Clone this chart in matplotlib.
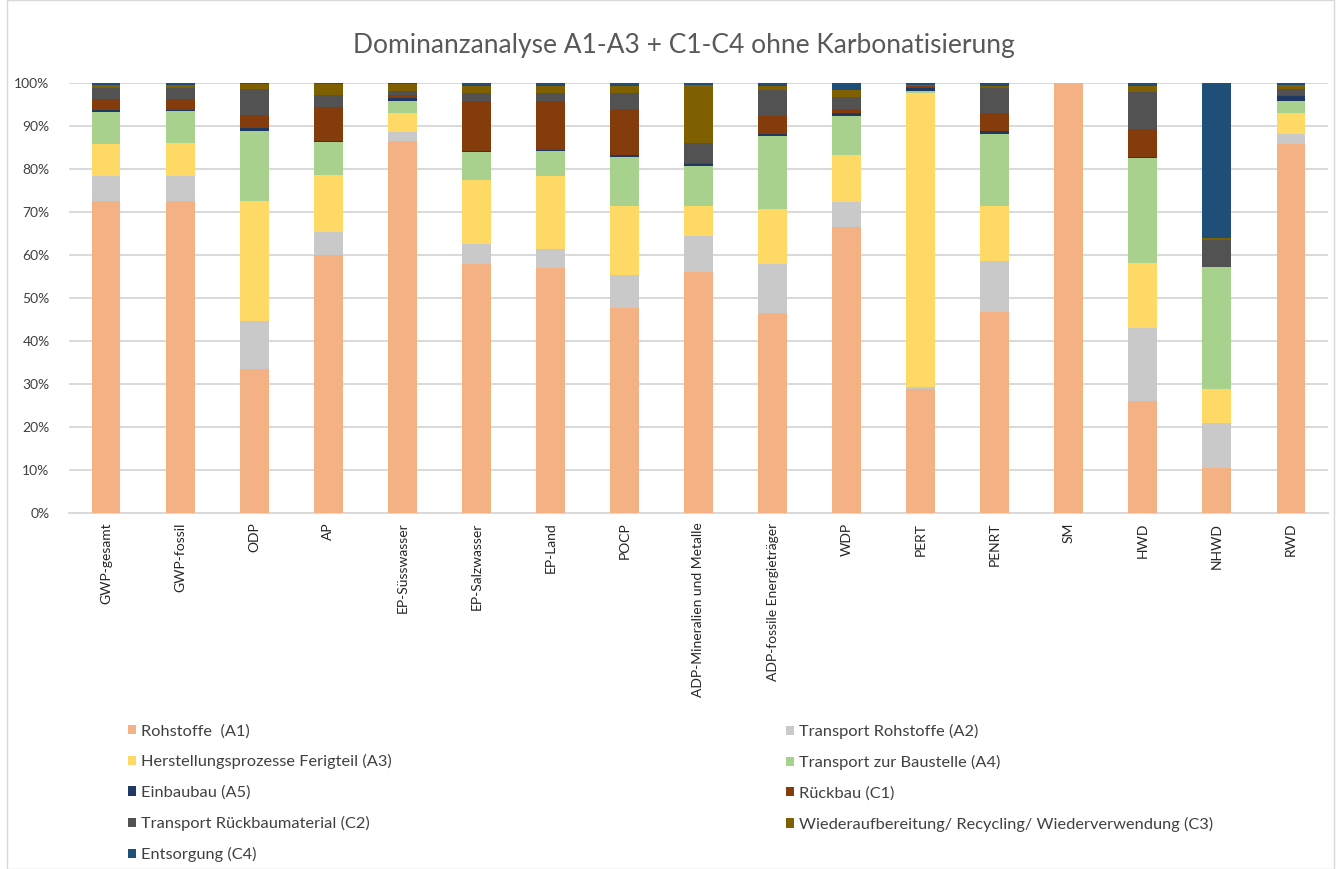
import matplotlib
matplotlib.use("Agg")
import matplotlib.pyplot as plt
from matplotlib.patches import Patch, Rectangle
import numpy as np

plt.rcParams['font.family'] = ['Lato', 'DejaVu Sans']

# ---------------- data (percent shares per module) ----------------
categories = ["GWP-gesamt", "GWP-fossil", "ODP", "AP", "EP-Süsswasser", "EP-Salzwasser",
              "EP-Land", "POCP", "ADP-Mineralien und Metalle", "ADP-fossile Energieträger",
              "WDP", "PERT", "PENRT", "SM", "HWD", "NHWD", "RWD"]

a1 = [72.6, 72.6, 33.5, 60.0, 86.6, 57.8, 57.0, 47.7, 56.0, 46.5, 66.6, 28.8, 46.7, 100.0, 26.1, 10.5, 85.9]
a2 = [5.8, 5.8, 11.2, 5.4, 1.9, 4.7, 4.5, 7.6, 8.4, 11.4, 5.7, 0.5, 11.9, 0.0, 17.0, 10.5, 2.3]
a3 = [7.3, 7.6, 27.9, 13.3, 4.5, 14.9, 16.9, 16.1, 7.0, 12.9, 10.9, 68.4, 12.8, 0.0, 15.1, 7.8, 4.8]
a4 = [7.5, 7.5, 16.3, 7.6, 2.8, 6.6, 5.9, 11.4, 9.4, 16.8, 9.2, 0.5, 16.8, 0.0, 24.3, 28.3, 2.8]
a5 = [0.6, 0.3, 0.6, 0.3, 0.8, 0.1, 0.1, 0.4, 0.4, 0.6, 0.6, 0.6, 0.6, 0.0, 0.3, 0.0, 1.1]
c1 = [2.4, 2.4, 3.1, 7.9, 0.5, 11.7, 11.4, 10.7, 0.3, 4.1, 1.0, 0.4, 4.2, 0.0, 6.4, 0.0, 0.4]
c2 = [2.7, 2.7, 6.0, 2.8, 1.1, 1.9, 1.9, 3.8, 4.5, 6.0, 2.8, 0.2, 5.9, 0.0, 8.8, 6.4, 1.3]
c3 = [0.6, 0.6, 1.2, 2.5, 1.5, 1.5, 1.5, 1.5, 13.6, 1.1, 1.5, 0.2, 0.5, 0.0, 1.2, 0.5, 0.9]
c4 = [0.5, 0.5, 0.2, 0.2, 0.3, 0.8, 0.8, 0.8, 0.4, 0.6, 1.7, 0.4, 0.6, 0.0, 0.8, 36.0, 0.5]

series_labels = ["Rohstoffe  (A1)", "Transport Rohstoffe (A2)", "Herstellungsprozesse Ferigteil (A3)",
                 "Transport zur Baustelle (A4)", "Einbaubau (A5)", "Rückbau (C1)",
                 "Transport Rückbaumaterial (C2)", "Wiederaufbereitung/ Recycling/ Wiederverwendung (C3)",
                 "Entsorgung (C4)"]

colors = ["#F4B183", "#C9C9C9", "#FFD966", "#A9D18E", "#203864",
          "#843C0C", "#525252", "#7F6000", "#1F4E79"]

# ---------------- plotting ----------------
W, H = 1336, 869
fig = plt.figure(figsize=(W / 100, H / 100), dpi=100)
ax = fig.add_axes([69 / W, 1 - 513 / H, (1328 - 69) / W, 430 / H])

series = [a1, a2, a3, a4, a5, c1, c2, c3, c4]
x = np.arange(len(categories))
bottom = np.zeros(len(categories))
for vals, col, lab in zip(series, colors, series_labels):
    v = np.array(vals)
    ax.bar(x, v, bottom=bottom, width=0.39, color=col, label=lab, zorder=3)
    bottom += v

ax.set_xlim(-0.5, len(categories) - 0.5)
ax.set_ylim(0, 100)
ax.set_yticks(np.arange(0, 101, 10))
ax.set_yticklabels([f"{t}%" for t in range(0, 101, 10)], fontsize=10, color="#404040")
ax.set_xticks(x)
ax.set_xticklabels(categories, rotation=90, fontsize=10, color="#262626", va="top")
ax.tick_params(axis="both", length=0)
ax.tick_params(axis="y", pad=14)
ax.tick_params(axis="x", pad=7)
ax.grid(axis="y", color="#D9D9D9", linewidth=1.4, zorder=0)
for s in ["top", "right", "left"]:
    ax.spines[s].set_visible(False)
ax.spines["bottom"].set_color("#D9D9D9")
ax.spines["bottom"].set_linewidth(1.4)

fig.text(684 / W, 1 - 45 / H, "Dominanzanalyse A1-A3 + C1-C4 ohne Karbonatisierung",
         ha="center", va="center", fontsize=19, color="#595959")

# legend in two columns, row-wise order like the original
handles = [Patch(facecolor=c, edgecolor="none") for c in colors]
left_idx = [0, 2, 4, 6, 8]
right_idx = [1, 3, 5, 7]
for idx, xpos in [(left_idx, 128), (right_idx, 786)]:
    leg = fig.legend([handles[i] for i in idx], [series_labels[i] for i in idx],
                     loc="upper left", bbox_to_anchor=(xpos / W, 1 - 724 / H),
                     frameon=False, fontsize=11.8, handlelength=0.5, handleheight=0.5,
                     handletextpad=0.3, labelspacing=0.98, borderaxespad=0, borderpad=0)
    for t in leg.get_texts():
        t.set_color("#404040")

fig.patches.append(Rectangle((7 / W, 0), (W - 9) / W, 1, transform=fig.transFigure,
                             fill=False, edgecolor="#D9D9D9", linewidth=1))

fig.savefig("out.png", dpi=100)
